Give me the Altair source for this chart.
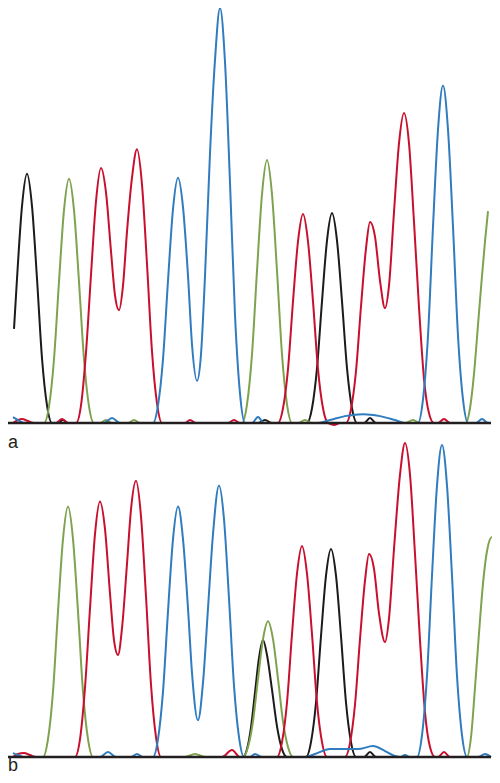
import altair as alt
import pandas as pd

# ---- panel a traces: (scan position, signal) ----
A_BLACK = [(14,96),(17,147),(22,221),(27,254),(32,221),(37,147),(42,66),(47,18),(52,0),
           (58,0),(63,3),(68,0),(258,0),(265,3),(272,0),
           (307,0),(312,15),(317,56),(322,124),(327,186),(332,214),(337,186),(342,124),(347,56),(352,15),(357,0),
           (364,0),(370,5),(376,0),(490,0)]
A_GREEN = [(13,0),(44,0),(49,17),(54,65),(59,144),(64,217),(69,249),(74,217),(79,144),(84,65),(89,17),(94,0),
           (100,0),(106,3),(112,0),(128,0),(134,3),(140,0),
           (242,0),(247,19),(252,70),(257,155),(262,233),(267,268),(272,233),(277,155),(282,70),(287,19),(292,0),
           (298,0),(305,3),(312,0),(405,0),(413,3),(420,0),
           (466,0),(470,15),(474,50),(478,100),(482,150),(485,185),(488,216)]
A_RED = [(13,0),(16,2),(22,4),(28,2),(34,0),(56,0),(62,4),(68,0),
         (76,0),(81,18),(86,72),(91,151),(96,226),(101,260),(106,235),(111,175),(115,130),(119,115),
         (123,140),(127,195),(132,250),(137,279),(142,243),(147,162),(152,73),(157,20),(162,0),
         (185,0),(190,3),(196,0),(228,0),(234,3),(240,0),
         (278,0),(283,15),(288,55),(293,124),(298,185),(303,213),(308,185),(313,124),(318,55),(323,15),(328,0),
         (334,-2),(340,0),
         (346,0),(351,14),(356,53),(361,119),(366,178),(370,205),(375,190),(380,145),(385,117),(389,140),
         (394,215),(399,285),(404,316),(409,285),(414,205),(419,118),(424,45),(429,10),(434,0),
         (438,0),(444,4),(450,0),(490,0)]
A_BLUE = [(13,6),(18,3),(24,0),(104,0),(112,5),(120,0),
          (153,0),(158,18),(163,65),(168,145),(173,218),(178,250),(183,220),(188,150),(192,80),(197,43),
          (201,70),(205,150),(210,275),(215,370),(220,423),(225,368),(230,245),(235,110),(240,30),(245,0),
          (252,0),(258,6),(264,0),
          (318,0),(330,3),(345,7),(363,9),(380,7),(395,3),(405,0),
          (418,0),(423,24),(428,89),(433,200),(438,299),(443,344),(448,299),(453,200),(458,89),(463,24),(468,0),
          (476,0),(482,4),(488,0),(490,0)]

# ---- panel b traces ----
B_BLACK = [(13,0),(243,0),(247,8),(251,30),(255,65),(259,100),(263,118),(267,103),(272,68),(277,31),(282,8),(287,0),
           (306,0),(311,15),(316,55),(321,122),(326,183),(331,210),(336,183),(341,122),(346,55),(351,15),(356,0),
           (364,0),(370,5),(376,0),(490,0)]
B_GREEN = [(13,0),(43,0),(48,18),(53,66),(58,147),(63,220),(68,253),(73,220),(78,147),(83,66),(88,18),(93,0),
           (185,0),(195,3),(205,0),
           (243,0),(248,10),(253,36),(258,79),(263,119),(268,137),(273,119),(278,79),(283,36),(288,10),(293,0),
           (467,0),(471,20),(475,70),(479,125),(483,175),(487,208),(492,222),(496,205),(499,165)]
B_RED = [(13,0),(18,3),(24,4),(30,2),(36,0),
         (75,0),(80,18),(85,70),(90,150),(95,225),(100,258),(105,230),(110,165),(114,118),(118,103),
         (122,130),(127,195),(131,250),(136,279),(141,243),(146,162),(151,73),(156,20),(161,0),
         (222,0),(232,7),(240,0),
         (277,0),(282,15),(287,55),(292,124),(297,185),(302,213),(307,185),(312,124),(317,55),(322,15),(327,0),
         (345,0),(350,14),(355,53),(360,119),(365,178),(369,205),(374,190),(379,145),(385,116),(389,140),
         (394,210),(400,285),(405,317),(410,285),(415,205),(420,118),(425,45),(430,10),(435,0),
         (438,0),(444,5),(450,0),(490,0)]
B_BLUE = [(13,4),(18,2),(24,0),(100,0),(108,5),(116,0),(131,0),(137,3),(143,0),
          (153,0),(158,18),(163,66),(168,147),(173,220),(178,253),(183,220),(188,150),(192,85),(198,37),
          (203,75),(208,150),(213,225),(219,274),(224,240),(229,160),(234,72),(239,20),(244,0),
          (250,0),(255,3),(262,0),
          (305,0),(315,3),(330,8),(345,8),(358,8),(373,11),(385,6),(395,1),(400,0),(405,2),(410,0),
          (417,0),(422,22),(427,82),(432,183),(437,274),(442,315),(447,274),(452,183),(457,82),(462,22),(467,0),
          (478,0),(485,3),(491,0)]

DYES = ["A", "C", "G", "T"]
DYE_COLORS = ["#7fa24e", "#2f7cbf", "#1c1a1a", "#c8102e"]
BASELINE_X = [2, 491]
LABELS = ["a", "b"]
LABEL_POS = [(8, -25), (8, -14)]


def traces_df(black, green, red, blue):
    rows = []
    for dye, pts in (("G", black), ("A", green), ("T", red), ("C", blue)):
        for x, s in pts:
            rows.append({"dye": dye, "x": x, "s": s})
    return pd.DataFrame(rows)


xscale = alt.Scale(domain=[8, 492], zero=False, nice=False)
color = alt.Color("dye:N", scale=alt.Scale(domain=DYES, range=DYE_COLORS), legend=None)


def panel(df, label, label_pos, yscale):
    x = alt.X("x:Q", scale=xscale, axis=None)
    y = alt.Y("s:Q", scale=yscale, axis=None)
    lines = alt.Chart(df).mark_line(interpolate="monotone", strokeWidth=2).encode(
        x=x, y=y, color=color
    )
    base = alt.Chart(pd.DataFrame({"x": BASELINE_X, "s": [0, 0]})).mark_line(
        color="#231f20", strokeWidth=2.4
    ).encode(x=x, y=y)
    text = alt.Chart(pd.DataFrame({"x": [label_pos[0]], "s": [label_pos[1]], "t": [label]})).mark_text(
        align="left", baseline="alphabetic", fontSize=18, font="Liberation Sans", color="#231f20"
    ).encode(x=x, y=y, text="t:N")
    return alt.layer(lines, base, text)


panel_a = panel(traces_df(A_BLACK, A_GREEN, A_RED, A_BLUE), LABELS[0], LABEL_POS[0],
                alt.Scale(domain=[0, 423], range=[415, 0], zero=False, nice=False))
panel_b = panel(traces_df(B_BLACK, B_GREEN, B_RED, B_BLUE), LABELS[1], LABEL_POS[1],
                alt.Scale(domain=[0, 317], range=[749, 435], zero=False, nice=False))

chart = alt.layer(panel_a, panel_b).resolve_scale(y="independent").properties(
    width=484, height=767, padding=0, background="white",
    autosize=alt.AutoSizeParams(type="none"),
).configure_view(stroke=None)

chart.save("out.html", embed_options={"renderer": "svg", "actions": False})
